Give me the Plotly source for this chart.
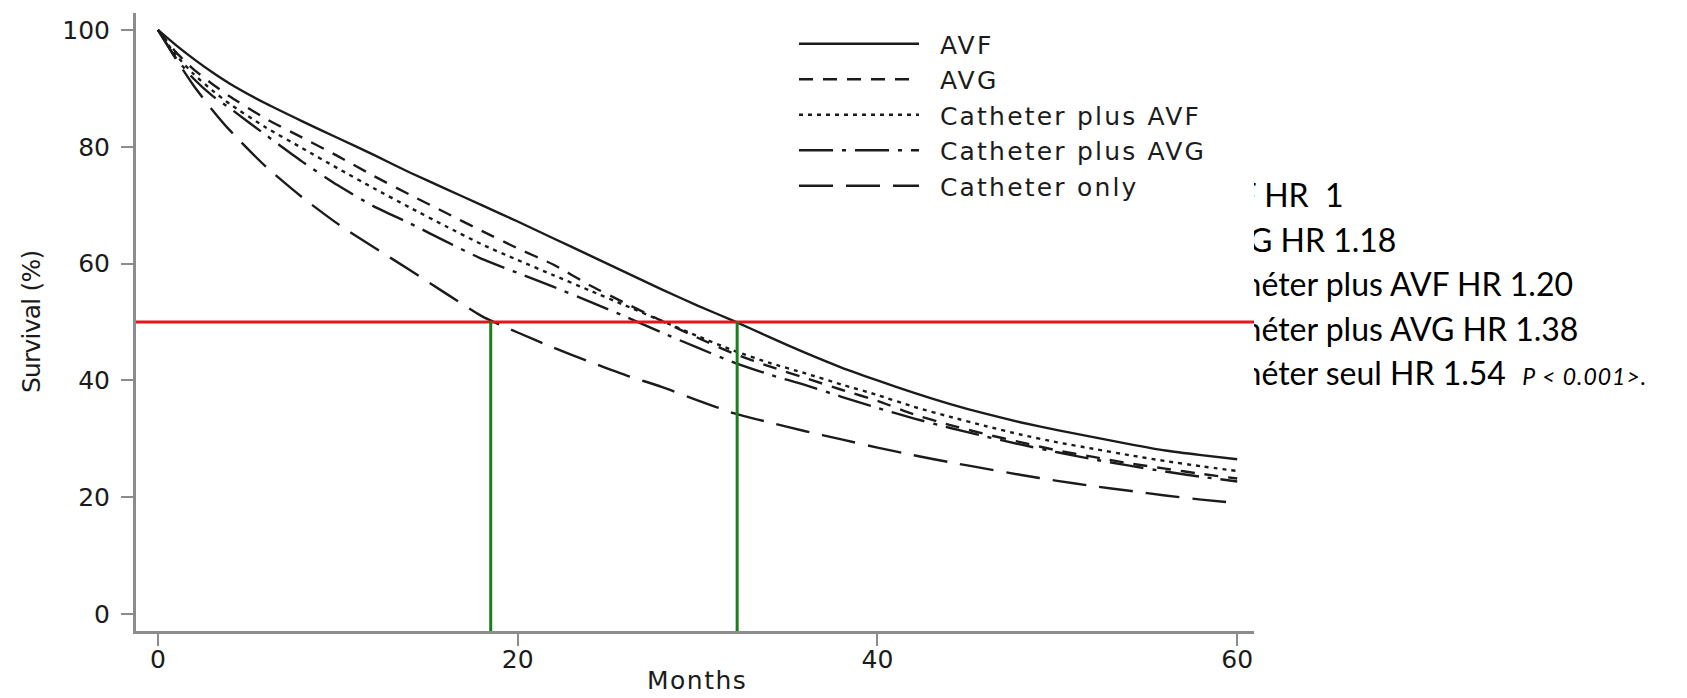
import plotly.graph_objects as go

# ---------------- data ----------------
months = [0, 1, 2, 3, 4, 6, 8, 10, 12, 14, 16, 18, 20, 22, 24, 26, 28, 30,
          32, 34, 36, 38, 40, 42, 44, 46, 48, 50, 52, 54, 56, 58, 60]

avf = [100, 97.4, 95.0, 92.8, 90.8, 87.4, 84.4, 81.5, 78.6, 75.6, 72.8, 70.0,
       67.2, 64.3, 61.4, 58.5, 55.6, 52.8, 50.2, 47.4, 44.7, 42.2, 40.0, 37.9,
       36.0, 34.3, 32.8, 31.5, 30.3, 29.1, 28.0, 27.2, 26.5]
avg = [100, 96.2, 93.2, 90.8, 88.6, 84.8, 81.6, 78.4, 75.0, 71.8, 68.7, 65.6,
       62.6, 59.8, 56.3, 53.2, 50.2, 47.3, 44.6, 42.4, 40.4, 38.4, 36.5, 34.2,
       32.4, 30.8, 29.4, 28.0, 26.9, 25.8, 24.9, 24.0, 23.2]
cath_avf = [100, 95.7, 92.4, 89.7, 87.3, 83.3, 79.8, 76.3, 72.9, 69.6, 66.4, 63.3,
            60.6, 58.0, 55.4, 52.8, 50.2, 47.6, 45.1, 43.0, 41.2, 39.3, 37.5, 35.5,
            33.8, 32.2, 30.7, 29.4, 28.3, 27.2, 26.2, 25.3, 24.5]
cath_avg = [100, 95.2, 91.6, 88.8, 86.6, 82.0, 77.5, 73.4, 69.8, 66.9, 63.8, 60.8,
            58.4, 56.0, 53.5, 50.9, 48.2, 45.6, 43.1, 41.0, 39.2, 37.2, 35.3, 33.5,
            31.9, 30.4, 29.0, 27.7, 26.5, 25.4, 24.4, 23.5, 22.7]
cath_only = [100, 95.0, 90.4, 86.4, 82.8, 76.6, 71.4, 66.8, 62.8, 58.9, 54.9, 51.0,
             48.2, 45.6, 43.2, 40.9, 38.9, 36.6, 34.4, 32.8, 31.3, 29.9, 28.5, 27.2,
             26.0, 24.9, 23.8, 22.8, 21.9, 21.1, 20.3, 19.6, 19.0]

series_names = ["AVF", "AVG", "Catheter plus AVF", "Catheter plus AVG", "Catheter only"]
series_values = [avf, avg, cath_avf, cath_avg, cath_only]
series_dash = ["solid", "14px,10px", "4px,5px", "34px,9px,4px,9px", "34px,13px"]

median_level = 50
median_times = [18.5, 32.2]   # catheter only, AVF

x_ticks = [0, 20, 40, 60]
y_ticks = [0, 20, 40, 60, 80, 100]
x_range = [-1.22, 61.1]
y_range = [-2.9, 102.9]

hr_lines = ["AVF HR  1", "AVG HR 1.18", "Cathéter plus AVF HR 1.20",
            "Cathéter plus AVG HR 1.38",
            "Cathéter seul HR 1.54  <i><span style='font-size:23px;letter-spacing:1px'>"
            "P &lt; 0.001&gt;.</span></i>"]

# ---------------- figure ----------------
W, H = 1687, 698
AX_FONT = "DejaVu Sans"
INK = "#1b1b1b"
AXIS_GRAY = "#8c8c8c"

fig = go.Figure()

for name, vals, dash in zip(series_names, series_values, series_dash):
    fig.add_trace(go.Scatter(
        x=months, y=vals, mode="lines",
        name="&nbsp;&nbsp;<span style='letter-spacing:2.2px'>" + name + "</span>",
        line=dict(color=INK, width=2.4, dash=dash, shape="spline", smoothing=0.6),
        xaxis="x", yaxis="y"))

# median reference lines
fig.add_trace(go.Scatter(
    x=x_range, y=[median_level, median_level], mode="lines",
    line=dict(color="#e3161b", width=3), showlegend=False, xaxis="x", yaxis="y"))
for t in median_times:
    fig.add_trace(go.Scatter(
        x=[t, t], y=[median_level, y_range[0] - 5], mode="lines",
        line=dict(color="#1b7d1b", width=3), showlegend=False, xaxis="x", yaxis="y"))

# hazard-ratio text block (clipped on the left like the pasted box)
clip_left = 1254
text_x = [1197, 1208, 1195, 1195, 1195]
text_y = [199, 244, 288, 333, 377]
fig.add_trace(go.Scatter(
    x=text_x, y=text_y, text=hr_lines, mode="text", textposition="middle right",
    textfont=dict(family="Lato", size=32, color="#000000"),
    showlegend=False, hoverinfo="skip", cliponaxis=True, xaxis="x2", yaxis="y2"))

x_dom = [136 / W, 1257 / W]
y_dom = [1 - 631 / H, 1 - 13 / H]

axis_common = dict(
    showgrid=False, zeroline=False, showline=True, linecolor=AXIS_GRAY, linewidth=3,
    ticks="outside", ticklen=12, tickwidth=2, tickcolor=AXIS_GRAY,
    tickfont=dict(family=AX_FONT, size=25, color=INK), automargin=False)

fig.update_layout(
    width=W, height=H, autosize=False,
    margin=dict(l=0, r=0, t=0, b=0, pad=0),
    paper_bgcolor="white", plot_bgcolor="white",
    hovermode=False,
    xaxis=dict(domain=x_dom, range=x_range, tickvals=x_ticks, anchor="y",
               ticklabelstandoff=-8, **axis_common),
    yaxis=dict(domain=y_dom, range=y_range, tickvals=y_ticks, anchor="x",
               ticklabelstandoff=6, **axis_common),
    xaxis2=dict(domain=[clip_left / W, 1], range=[clip_left, W], visible=False,
                anchor="y2", fixedrange=True),
    yaxis2=dict(domain=[0, 1], range=[H, 0], visible=False, anchor="x2", fixedrange=True),
    showlegend=True,
    legend=dict(x=794 / W, y=1 - 21 / H, xanchor="left", yanchor="top",
                bgcolor="rgba(0,0,0,0)", itemwidth=120,
                font=dict(family=AX_FONT, size=25, color=INK),
                tracegroupgap=0),
    annotations=[
        dict(text="<span style='letter-spacing:1.5px'>Months</span>",
             x=(x_dom[0] + x_dom[1]) / 2, y=1 - 680 / H, xref="paper", yref="paper",
             showarrow=False, font=dict(family=AX_FONT, size=25, color=INK),
             xanchor="center", yanchor="middle"),
        dict(text="<span style='letter-spacing:-0.8px'>Survival (%)</span>",
             x=31 / W, y=1 - 322 / H, xref="paper", yref="paper",
             showarrow=False, textangle=-90, font=dict(family=AX_FONT, size=25, color=INK),
             xanchor="center", yanchor="middle"),
    ],
)

fig.write_html("out.html", config={"displayModeBar": False},
               post_script="document.body.style.margin='0px';")
